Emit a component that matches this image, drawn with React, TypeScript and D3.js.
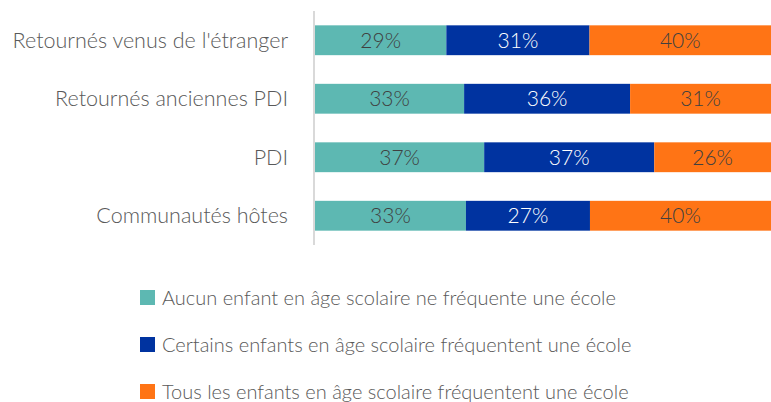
import React, { useEffect, useRef } from "react";
import * as d3 from "d3";

const categories = [
  "Retournés venus de l'étranger",
  "Retournés anciennes PDI",
  "PDI",
  "Communautés hôtes",
];

const seriesNames = [
  "Aucun enfant en âge scolaire ne fréquente une école",
  "Certains enfants en âge scolaire fréquentent une école",
  "Tous les enfants en âge scolaire fréquentent une école",
];

const aucun = [28.8, 32.7, 37.1, 33.1];
const certains = [31.4, 36.4, 37.3, 27.2];
const tous = [39.8, 30.9, 25.6, 39.7];

const colors = ["#5DB8B2", "#0033A0", "#FF7415"];
const labelColors = ["#404040", "#ffffff", "#404040"];

const FONT = "Lato, 'Open Sans', sans-serif";

export default function App() {
  const ref = useRef<SVGSVGElement | null>(null);

  useEffect(() => {
    const width = 771;
    const height = 402;

    const svg = d3.select(ref.current);
    svg.selectAll("*").remove();
    svg.attr("width", width).attr("height", height);

    const rows = categories.map((c, i) => ({
      cat: c,
      s0: aucun[i],
      s1: certains[i],
      s2: tous[i],
    }));

    const keys = ["s0", "s1", "s2"];
    const stacked = d3.stack<any>().keys(keys)(rows);

    const x = d3.scaleLinear().domain([0, 100]).range([315, 771]);
    const y = d3
      .scaleBand<string>()
      .domain(categories)
      .range([11, 245])
      .paddingInner(0.49)
      .paddingOuter(0.245);

    // vertical axis line
    svg
      .append("line")
      .attr("x1", 314)
      .attr("x2", 314)
      .attr("y1", 11)
      .attr("y2", 245)
      .attr("stroke", "#d9d9d9")
      .attr("stroke-width", 2);

    // category labels
    svg
      .append("g")
      .selectAll("text")
      .data(categories)
      .join("text")
      .attr("x", 288)
      .attr("y", (d) => y(d)! + y.bandwidth() / 2)
      .attr("dy", "0.35em")
      .attr("text-anchor", "end")
      .style("font-family", FONT)
      .style("font-weight", 300)
      .style("font-size", "21.5px")
      .style("fill", "#595959")
      .text((d) => d);

    // bars
    stacked.forEach((layer, si) => {
      const g = svg.append("g");
      g.selectAll("rect")
        .data(layer)
        .join("rect")
        .attr("x", (d) => x(d[0]))
        .attr("y", (d) => y(d.data.cat)!)
        .attr("width", (d) => x(d[1]) - x(d[0]))
        .attr("height", y.bandwidth())
        .attr("fill", colors[si]);

      g.selectAll("text")
        .data(layer)
        .join("text")
        .attr("x", (d) => (x(d[0]) + x(d[1])) / 2)
        .attr("y", (d) => y(d.data.cat)! + y.bandwidth() / 2)
        .attr("dy", "0.36em")
        .attr("text-anchor", "middle")
        .style("font-family", FONT)
        .style("font-weight", 300)
        .style("font-size", "21px")
        .style("fill", labelColors[si])
        .text((d) => `${Math.round(d[1] - d[0])}%`);
    });

    // legend
    const legend = svg
      .append("g")
      .selectAll("g")
      .data(seriesNames)
      .join("g")
      .attr("transform", (_, i) => `translate(140,${290 + i * 47})`);

    legend
      .append("rect")
      .attr("width", 15)
      .attr("height", 15)
      .attr("fill", (_, i) => colors[i]);

    legend
      .append("text")
      .attr("x", 22)
      .attr("y", 15)
      .style("font-family", FONT)
      .style("font-weight", 300)
      .style("font-size", "20px")
      .style("fill", "#595959")
      .text((d) => d);
  }, []);

  return (
    <svg
      ref={ref}
      style={{ position: "absolute", left: 0, top: 0, display: "block" }}
    />
  );
}
